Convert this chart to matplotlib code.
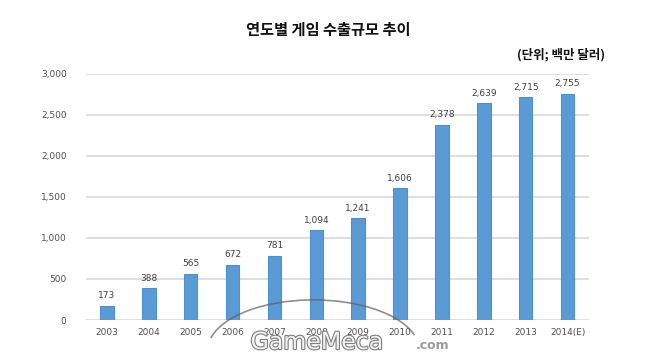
import matplotlib.pyplot as plt
import matplotlib.patheffects as pe
from matplotlib.patches import Arc

plt.rcParams['font.family'] = ['Noto Sans CJK KR', 'DejaVu Sans']

years = ["2003", "2004", "2005", "2006", "2007", "2008", "2009",
         "2010", "2011", "2012", "2013", "2014(E)"]
exports = [173, 388, 565, 672, 781, 1094, 1241, 1606, 2378, 2639, 2715, 2755]
y_ticks = [0, 500, 1000, 1500, 2000, 2500, 3000]

BAR_COLOR = "#5B9BD5"
EDGE_COLOR = "#4F8FCB"
TEXT_COLOR = "#404040"

fig = plt.figure(figsize=(6.6, 3.57), dpi=100)
ax = fig.add_axes([0.1303, 0.1036, 0.7614, 0.690])

x = range(len(years))
bars = ax.bar(x, exports, width=0.32, color=BAR_COLOR, edgecolor=EDGE_COLOR,
              linewidth=0.8, zorder=3)

for rect, v in zip(bars, exports):
    ax.annotate(f"{v:,}", (rect.get_x() + rect.get_width() / 2, v),
                xytext=(0, 4), textcoords="offset points",
                ha="center", va="bottom", fontsize=6.5, color=TEXT_COLOR,
                family="DejaVu Sans")

ax.set_xlim(-0.5, len(years) - 0.5)
ax.set_ylim(0, 3000)
ax.set_yticks(y_ticks)
ax.set_yticklabels([f"{t:,}" for t in y_ticks], family="DejaVu Sans")
ax.set_xticks(list(x))
ax.set_xticklabels(years, family="DejaVu Sans")
ax.tick_params(axis="both", length=0, labelsize=6.5, labelcolor="#505050")
ax.tick_params(axis="y", pad=14)
ax.tick_params(axis="x", pad=6)

ax.grid(axis="y", color="#DCDCDC", linewidth=1.3, zorder=0)
for s in ax.spines.values():
    s.set_visible(False)

fig.text(0.497, 0.916, "연도별 게임 수출규모 추이", ha="center", va="center",
         fontsize=11, fontweight="bold", color="#111111")
fig.text(0.85, 0.846, "(단위; 백만 달러)", ha="center", va="center",
         fontsize=9, fontweight="bold", color="#111111")

# watermark (overlaps the x labels, as in the source image)
arc = Arc((0.475, 0.02), 0.32, 0.28, theta1=15, theta2=168,
          transform=fig.transFigure, color="#606060", linewidth=1.2, alpha=0.7)
fig.add_artist(arc)
fig.text(0.48, 0.042, "GameMeca", ha="center", va="center", fontsize=17,
         color="white", family="DejaVu Sans", alpha=0.9,
         path_effects=[pe.withStroke(linewidth=1.6, foreground="#707070")])
fig.text(0.63, 0.033, ".com", ha="left", va="center", fontsize=9,
         color="#9A9A9A", family="DejaVu Sans", fontweight="bold")

fig.savefig("out.png", dpi=100, facecolor="white")
